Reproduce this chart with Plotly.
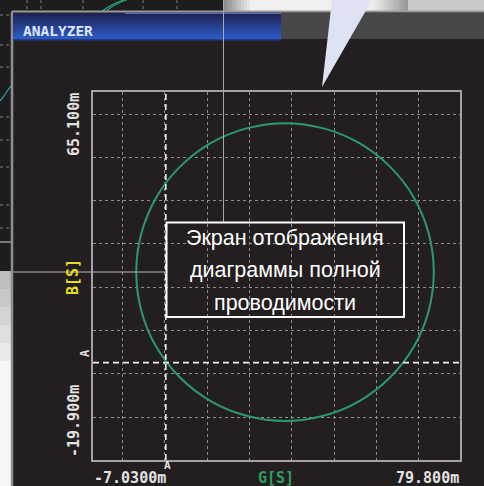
import plotly.graph_objects as go

# ---------------- data ----------------
circle_G = [73.6, 72.4, 68.9, 63.3, 56.0, 47.5, 38.4, 29.3, 20.8, 13.5, 7.9, 4.4, 3.2,
            4.4, 7.9, 13.5, 20.8, 29.3, 38.4, 47.5, 56.0, 63.3, 68.9, 72.4, 73.6]
circle_B = [23.5, 32.4, 40.7, 47.8, 53.3, 56.7, 57.9, 56.7, 53.3, 47.8, 40.7, 32.4, 23.5,
            14.6, 6.3, -0.8, -6.3, -9.7, -10.9, -9.7, -6.3, -0.8, 6.3, 14.6, 23.5]
x_range = [-7.03, 79.8]      # G [mS]
y_range = [-19.9, 65.1]      # B [mS]
cursor_G = 10.2
cursor_B = 2.6
x_tick_labels = ["-7.0300m", "79.800m"]
y_tick_labels = ["65.100m", "-19.900m"]
x_title = "G[S]"
y_title = "B[S]"
cursor_name = "A"
window_title = "ANALYZER"
callout_lines = ["Экран отображения", "диаграммы полной", "проводимости"]

# ---------------- styling ----------------
W, H = 484, 486
BG = "#231f20"
GRID = "#8e8e8e"
FRAME = "#a3a3a3"
CIRCLE = "#2b9a6b"
MONO = "DejaVu Sans Mono"
CALLOUT_FONT = "Liberation Sans, Arial"


def PX(x):
    return x / W


def PY(y):
    return 1 - y / H


def lerp(c1, c2, t):
    a = [int(c1[i:i + 2], 16) for i in (1, 3, 5)]
    b = [int(c2[i:i + 2], 16) for i in (1, 3, 5)]
    return "#" + "".join(f"{round(a[k] + (b[k] - a[k]) * t):02x}" for k in range(3))


shapes = []


def rect(x0, y0, x1, y1, color, layer="below"):
    shapes.append(dict(type="rect", xref="paper", yref="paper", layer=layer,
                       x0=PX(x0), x1=PX(x1), y0=PY(y1), y1=PY(y0),
                       fillcolor=color, line=dict(width=0)))


def line(x0, y0, x1, y1, color, width=1, dash="solid", layer="below"):
    shapes.append(dict(type="line", xref="paper", yref="paper", layer=layer,
                       x0=PX(x0), x1=PX(x1), y0=PY(y0), y1=PY(y1),
                       line=dict(color=color, width=width, dash=dash)))


def path(pts, color, fill=None, width=1, layer="below"):
    d = "M " + " L ".join(f"{PX(x):.5f},{PY(y):.5f}" for x, y in pts)
    if fill:
        d += " Z"
    shapes.append(dict(type="path", xref="paper", yref="paper", layer=layer, path=d,
                       fillcolor=fill if fill else "rgba(0,0,0,0)",
                       line=dict(color=color, width=width)))


# --- background window peeking out (top strip & left strip) ---
rect(0, 0, 223, 11, "#1e1c1d")
rect(0, 0, 11.5, 242, "#1e1c1d")
for gx in (27, 41, 83, 143, 177):
    line(gx, 0, gx, 11, "#7a7a7a", 1, "dot")
for gy in (15, 45, 67, 117, 140, 167, 205, 228):
    line(0, gy, 11.5, gy, "#7a7a7a", 1, "dot")
path([(102, 11), (110, 6), (118, 2), (124, 0)], "#2aa6a6", width=1.2)
path([(106, 11), (113, 6), (121, 2), (127, 0)], "#2a9a62", width=1.2)
path([(0, 101), (4, 96), (8, 90), (11.5, 85)], "#2aa6a6", width=1.2)
line(0, 242, 11.5, 242, "#9a9a9a", 1.5)
rect(0, 243, 11.5, 271, "#1e1c1d")
for i in range(12):
    y0 = 271 + i * 18
    rect(0, y0, 11.5, y0 + 18, lerp("#bdbdbd", "#f6f6f6", min(1, i / 5)))

# light area top-right
for i in range(10):
    x0 = 223 + i * 3
    rect(x0, 0, x0 + 3, 11, lerp("#8c8c8c", "#f0f0f0", i / 9))
rect(253, 0, 372, 11, "#f0f0f0")
for i in range(12):
    x0 = 372 + i * 3
    rect(x0, 0, x0 + 3, 11, lerp("#ededed", "#9a9a9a", i / 11))
rect(408, 0, 484, 11, "#c9c9c9")

# main window frame
line(12, 11.5, 484, 11.5, "#9b9b9b", 2)
line(12, 11.5, 12, 486, "#8f8f8f", 2.5)

# title bar with vertical blue gradient
for i in range(26):
    y0 = 13 + i
    rect(13, y0, 281, y0 + 1.05, lerp("#1d2152", "#2d5bc6", i / 25))
rect(13, 39, 281, 40.5, "#233a8a")
line(125, 13.3, 281, 13.3, "#5f86d6", 1)
rect(281, 13, 484, 39, "#474747")

# ghost cross-hair lines of the background window
line(223.5, 0, 223.5, 222, "#a8a8a8", 1, layer="above")
line(13, 272, 166, 272, "#b5b5b5", 1, layer="above")

# speech-bubble pointer
path([(332, 0), (372, 0), (322, 87)], "#dfe2f2", fill="#dfe2f2", width=0, layer="above")

# callout frame
shapes.append(dict(type="rect", xref="paper", yref="paper", layer="above",
                   x0=PX(166.5), x1=PX(404), y0=PY(317), y1=PY(222.5),
                   fillcolor="rgba(0,0,0,0)", line=dict(color="#ffffff", width=2)))

# ---------------- traces ----------------
fig = go.Figure()
fig.add_trace(go.Scatter(x=circle_G, y=circle_B, mode="lines",
                         line=dict(color=CIRCLE, width=2, shape="spline", smoothing=1.0),
                         hoverinfo="skip"))
fig.add_trace(go.Scatter(x=[cursor_G, cursor_G], y=y_range, mode="lines",
                         line=dict(color="#ececec", width=1.6, dash="6px,4px"),
                         hoverinfo="skip"))
fig.add_trace(go.Scatter(x=x_range, y=[cursor_B, cursor_B], mode="lines",
                         line=dict(color="#ececec", width=1.6, dash="6px,4px"),
                         hoverinfo="skip"))

# ---------------- annotations ----------------
ann = []


def text(x, y, s, size, color, angle=0, family=MONO, weight="bold"):
    ann.append(dict(x=PX(x), y=PY(y), xref="paper", yref="paper", text=s,
                    showarrow=False, textangle=angle, xanchor="center", yanchor="middle",
                    font=dict(family=family, size=size, color=color, weight=weight)))


text(58, 31, window_title, 14.5, "#dfe6f5")
text(74, 125, y_tick_labels[0], 15, "#e2e2e2", -90)
text(74, 421, y_tick_labels[1], 15, "#e2e2e2", -90)
text(73, 277, y_title, 15, "#e6dc1e", -90)
text(85, 353, cursor_name, 12, "#e2e2e2", -90)
text(130, 478, x_tick_labels[0], 15, "#e2e2e2")
text(427, 478, x_tick_labels[1], 15, "#e2e2e2")
text(276, 478, x_title, 15, "#2aa060")
text(167, 465, cursor_name, 11, "#e2e2e2")
for s, yc in zip(callout_lines, (238, 270, 303)):
    text(285, yc, s, 21.5, "#ffffff", family=CALLOUT_FONT, weight="normal")

fig.update_layout(
    width=W, height=H, margin=dict(l=0, r=0, t=0, b=0),
    paper_bgcolor=BG, plot_bgcolor=BG, showlegend=False,
    shapes=shapes, annotations=ann,
    xaxis=dict(domain=[PX(93), PX(460)], range=x_range, dtick=10, tick0=0,
               showgrid=True, gridcolor=GRID, griddash="dot", gridwidth=1,
               zeroline=False, showticklabels=False, ticks="",
               showline=True, linecolor=FRAME, linewidth=2, mirror=True, fixedrange=True),
    yaxis=dict(domain=[PY(460), PY(92)], range=y_range, dtick=10, tick0=0,
               showgrid=True, gridcolor=GRID, griddash="dot", gridwidth=1,
               zeroline=False, showticklabels=False, ticks="",
               showline=True, linecolor=FRAME, linewidth=2, mirror=True, fixedrange=True),
)

fig.write_html("out.html", config={"displayModeBar": False},
               post_script="document.body.style.margin='0';document.body.style.padding='0';")
